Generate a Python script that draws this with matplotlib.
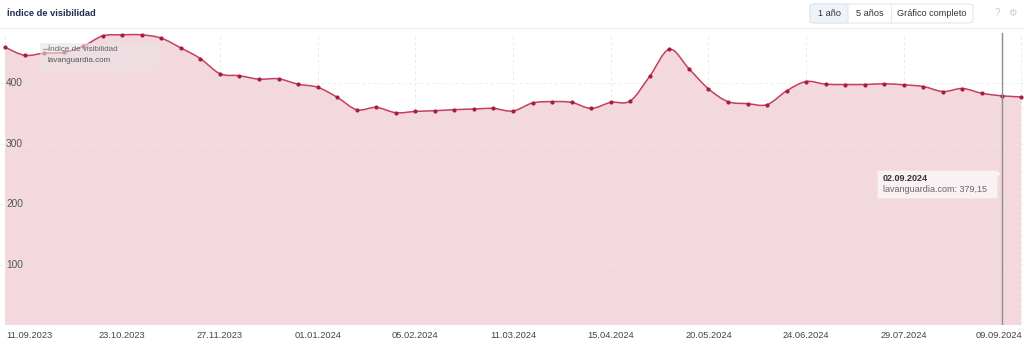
import matplotlib.pyplot as plt
from matplotlib.patches import FancyBboxPatch, Polygon, PathPatch
from matplotlib.path import Path

plt.rcParams['font.family'] = ['Liberation Sans', 'DejaVu Sans']

# valores semanales (11.09.2023 - 09.09.2024)
visibilidad = [459.5, 446.2, 449.5, 451.0, 461.0, 478.3, 480.0, 480.0, 474.5, 458.3,
               440.7, 415.7, 412.3, 406.7, 407.3, 398.3, 393.3, 376.7, 356.2, 360.0,
               351.2, 353.3, 354.5, 356.2, 357.3, 358.3, 354.0, 367.3, 369.5, 368.3,
               358.3, 368.3, 370.7, 411.7, 456.2, 424.0, 390.7, 369.5, 366.2, 364.5,
               387.3, 402.8, 398.3, 397.8, 397.8, 399.0, 397.3, 394.5, 386.2, 391.2,
               383.3, 379.15, 377.3]
semanas = list(range(len(visibilidad)))
tick_pos = [0, 6, 11, 16, 21, 26, 31, 36, 41, 46, 52]
tick_fechas = ['11.09.2023', '23.10.2023', '27.11.2023', '01.01.2024', '05.02.2024',
               '11.03.2024', '15.04.2024', '20.05.2024', '24.06.2024', '29.07.2024',
               '09.09.2024']
y_ticks = [100, 200, 300, 400]
sel = 51

fig = plt.figure(figsize=(10.24, 3.44), dpi=100)
ax = fig.add_axes([0, 19 / 344, 1, 295 / 344])
XMIN, XMAX, YMAX = -0.256, 52.15, 488


# curva suavizada (bezier) a traves de los puntos
def curva(xs, ys):
    n = len(xs)
    verts = [(xs[0], ys[0])]
    codes = [Path.MOVETO]
    for i in range(n - 1):
        a = max(i - 1, 0)
        b = min(i + 2, n - 1)
        c1 = (xs[i] + (xs[i + 1] - xs[a]) / 6, ys[i] + (ys[i + 1] - ys[a]) / 6)
        c2 = (xs[i + 1] - (xs[b] - xs[i]) / 6, ys[i + 1] - (ys[b] - ys[i]) / 6)
        verts += [c1, c2, (xs[i + 1], ys[i + 1])]
        codes += [Path.CURVE4] * 3
    return verts, codes


verts, codes = curva(semanas, visibilidad)
area_v = verts + [(semanas[-1], 0), (semanas[0], 0), verts[0]]
area_c = codes + [Path.LINETO, Path.LINETO, Path.CLOSEPOLY]
ax.add_patch(PathPatch(Path(area_v, area_c), fc='#f3d9de', ec='none', zorder=1))
ax.add_patch(PathPatch(Path(verts, codes), fc='none', ec='#c4405f', lw=1.1, zorder=3))
ax.scatter(semanas, visibilidad, s=9, color='#a81b45', zorder=4, linewidths=0)

ax.set_xlim(XMIN, XMAX)
ax.set_ylim(0, YMAX)
for s in ax.spines.values():
    s.set_visible(False)
ax.set_xticks([])
ax.set_yticks([])

for x in tick_pos:
    ax.axvline(x, ymin=0, ymax=0.99, color='#e4e4e4', lw=0.6, ls=(0, (4, 3)),
               alpha=0.8, zorder=2)
for y in y_ticks:
    ax.axhline(y, color='#eaeaea', lw=0.6, ls=(0, (4, 3)), alpha=0.8, zorder=2)
    ax.text(6 / 1024, y, str(y), fontsize=7.3, color='#555555', va='center', ha='left',
            transform=ax.get_yaxis_transform(), zorder=5)

# etiquetas de fecha
for i, (p, f) in enumerate(zip(tick_pos, tick_fechas)):
    ha = 'center'
    xx = p
    if i == 0:
        ha = 'left'
        xx = XMIN + 6 / 19.54
    elif i == len(tick_pos) - 1:
        ha = 'right'
        xx = XMAX - 2 / 19.54
    ax.text(xx, -10 / 295 * YMAX, f, fontsize=6.7, color='#444444', ha=ha, va='center',
            clip_on=False)

# cursor y tooltip
ax.axvline(sel, ymin=0, ymax=0.99, color='#8e8e8e', lw=1.0, zorder=6)
ax.add_patch(FancyBboxPatch((44.63, 210), 6.14, 46.4, boxstyle='square,pad=0',
                            fc='#fbf4f6', ec='#f0e4e7', lw=0.6, alpha=0.92, zorder=7))
ax.add_patch(Polygon([[50.77, 254], [50.77, 244], [50.95, 250]], closed=True,
                     fc='#fbf4f6', ec='none', zorder=7))
ax.text(44.92, 243, '02.09.2024', fontsize=6.5, fontweight='bold', color='#333333',
        va='center', zorder=8)
ax.text(44.92, 224, 'lavanguardia.com: 379,15', fontsize=6.5, color='#666666',
        va='center', zorder=8)

# leyenda
ax.add_patch(FancyBboxPatch((1.8, 420), 6.1, 46, boxstyle='square,pad=0',
                            fc='#e8e3e4', ec='none', alpha=0.6, zorder=7))
ax.plot([1.95, 2.2], [456, 456], color='#aaaaaa', lw=1.0, zorder=8)
ax.text(2.2, 456, 'Índice de visibilidad', fontsize=5.8, color='#666666', va='center', zorder=8)
ax.text(2.2, 437, 'lavanguardia.com', fontsize=5.8, color='#555555', va='center', zorder=8)

# cabecera
fig.text(7 / 1024, 1 - 13 / 344, 'Índice de visibilidad', fontsize=6.7, fontweight='bold',
         color='#1f2b4f', va='center')
fig.add_artist(plt.Line2D([0, 1], [1 - 28 / 344, 1 - 28 / 344], color='#eeeeee', lw=0.8))

botones = ['1 año', '5 años', 'Gráfico completo']
bx = [810, 848, 891, 973]
fig.add_artist(FancyBboxPatch((bx[0] / 1024, 1 - 23 / 344), (bx[-1] - bx[0]) / 1024,
                              19 / 344, boxstyle='round,pad=0,rounding_size=0.006',
                              transform=fig.transFigure, fc='white', ec='#dde3ea', lw=0.7))
fig.add_artist(FancyBboxPatch((bx[0] / 1024, 1 - 23 / 344), (bx[1] - bx[0]) / 1024,
                              19 / 344, boxstyle='round,pad=0,rounding_size=0.006',
                              transform=fig.transFigure, fc='#eef3fa', ec='#dde3ea', lw=0.7))
fig.add_artist(plt.Line2D([bx[2] / 1024, bx[2] / 1024], [1 - 23 / 344, 1 - 4 / 344],
                          color='#e6e9ee', lw=0.7))
for k, b in enumerate(botones):
    x0, x1 = bx[k] / 1024, bx[k + 1] / 1024
    fig.text((x0 + x1) / 2, 1 - 13 / 344, b, fontsize=6.6, color='#333333',
             ha='center', va='center')
fig.text(997 / 1024, 1 - 13 / 344, '?', fontsize=7, color='#cccccc', ha='center', va='center')
fig.text(1012 / 1024, 1 - 13 / 344, '⚙', fontsize=7, color='#cccccc', ha='center', va='center',
         family=['DejaVu Sans'])

fig.savefig('out.png', dpi=100)
